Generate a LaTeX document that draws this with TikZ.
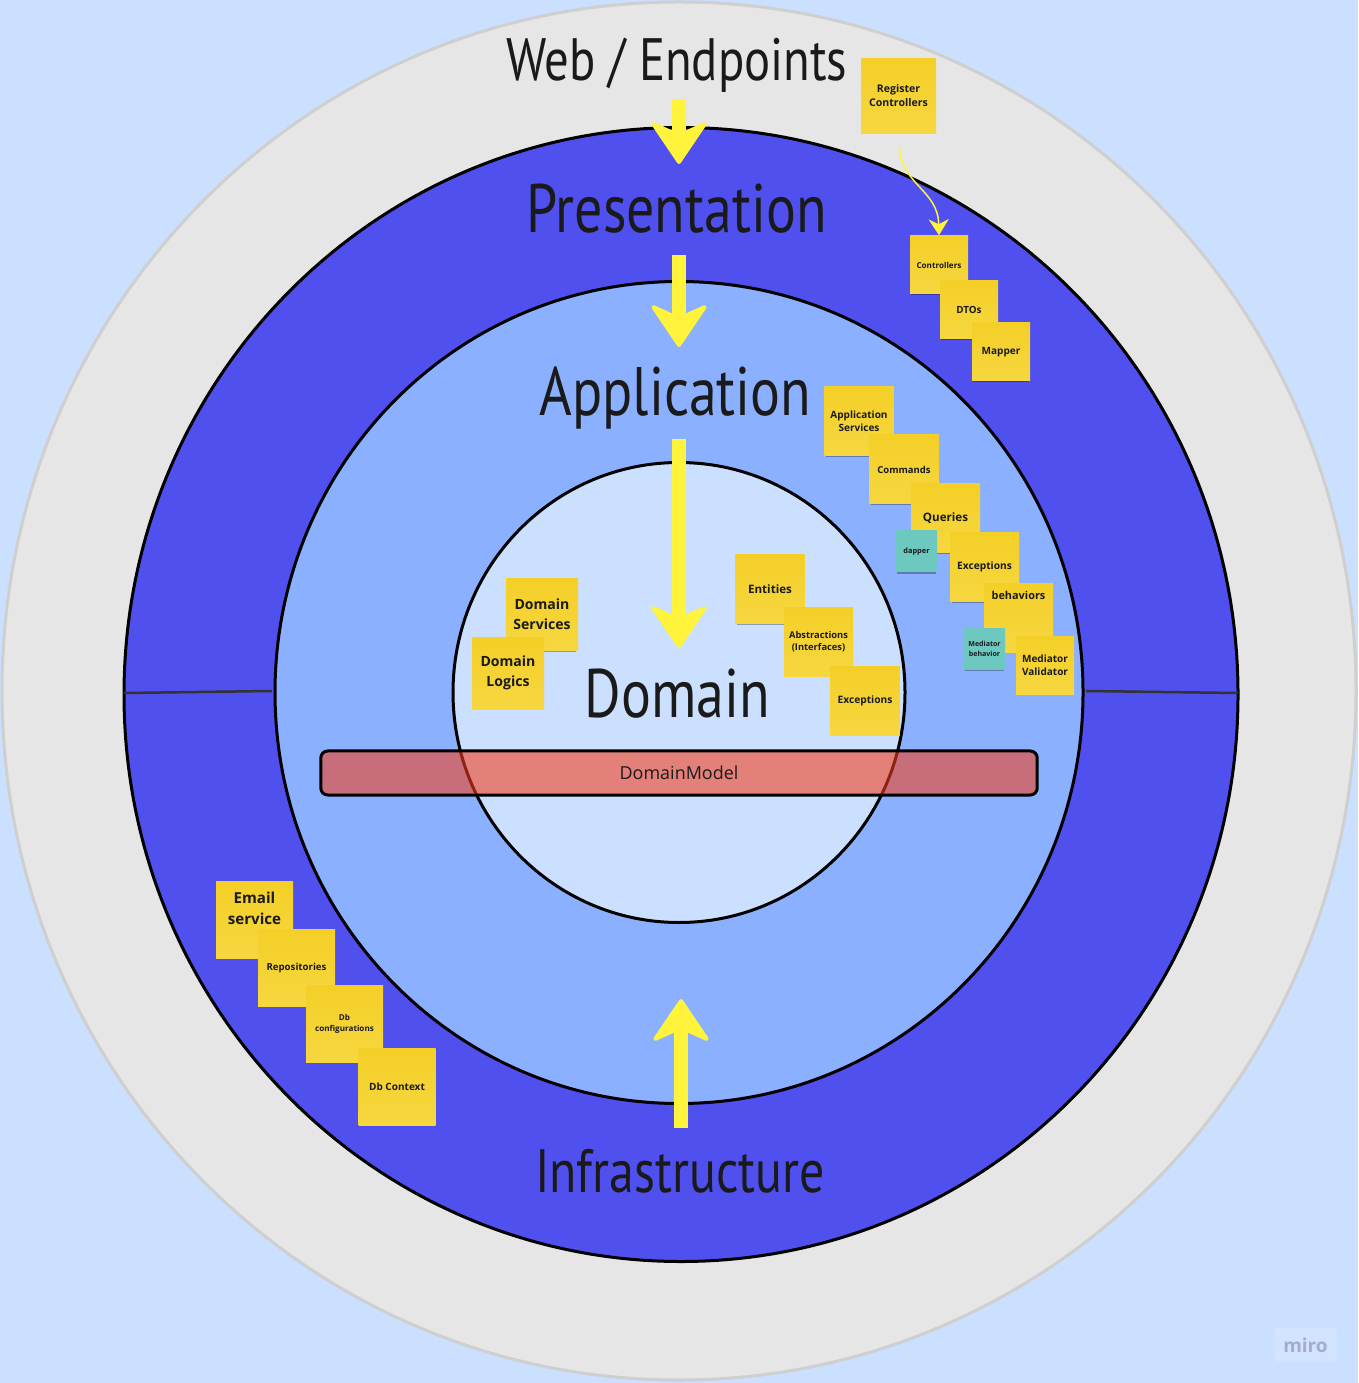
\documentclass[tikz,border=0pt]{standalone}
\usepackage{fontspec}
\usetikzlibrary{arrows.meta,shadows}
\setmainfont{Open Sans}
\newfontfamily\headfont[FakeStretch=0.815]{PT Sans}
\definecolor{pagebg}{HTML}{CBDFFF}
\definecolor{ringgray}{HTML}{E6E6E6}
\definecolor{ringedge}{HTML}{CFCFCF}
\definecolor{ringblue}{HTML}{4F50EE}
\definecolor{appblue}{HTML}{8AB0FF}
\definecolor{stickytop}{HTML}{F4CF27}
\definecolor{stickybottom}{HTML}{F6D740}
\definecolor{stickyteal}{HTML}{6DC8BF}
\definecolor{arrowyellow}{HTML}{FFF33B}
\definecolor{modelred}{HTML}{F53D1A}
\definecolor{inkdark}{HTML}{1A1A1A}
\definecolor{miroink}{HTML}{A3AEC6}
\tikzset{
	ring/.style={draw=black,line width=0.03cm},
	sticky/.style={top color=stickytop,bottom color=stickybottom,inner sep=0pt,minimum size=#1*0.01cm,align=center,text=inkdark,
		drop shadow={shadow xshift=0cm,shadow yshift=-0.03cm,shadow scale=0.95,opacity=0.3,fill=black}},
	tealsticky/.style={sticky=41,top color=stickyteal,bottom color=stickyteal},
	bigarrow/.style={draw=arrowyellow,line width=0.14cm,
		-{Stealth[length=0.46cm,width=0.62cm,inset=0.14cm,line width=0.04cm,round]}},
	layertitle/.style={anchor=base,inner sep=0pt,text=inkdark},
	divider/.style={draw=black!80,line width=0.025cm}
}
\newcommand{\hfs}[1]{\headfont\fontsize{#1}{#1}\selectfont}
\newcommand{\sfs}[2]{\bfseries\fontsize{#1}{#2}\selectfont}
\begin{document}
\begin{tikzpicture}[x=0.01cm,y=-0.01cm]
	\fill[pagebg] (0,0) rectangle (1358,1383);
	\useasboundingbox (0,0) rectangle (1358,1383);

	\draw[ringedge,fill=ringgray,line width=0.03cm] (679,691) ellipse [x radius=677,y radius=689];
	\path[ring,fill=ringblue] (681,694.5) ellipse [x radius=557,y radius=567];
	\coordinate (divLeftA) at (124,693);
	\coordinate (divLeftB) at (272,691);
	\coordinate (divRightA) at (1086,691);
	\coordinate (divRightB) at (1238,693);
	\draw[divider] (divLeftA) -- (divLeftB);
	\draw[divider] (divRightA) -- (divRightB);
	\path[ring,fill=appblue] (679,692.5) ellipse [x radius=404,y radius=411];
	\path[ring,fill=pagebg] (679,692.5) ellipse [x radius=226,y radius=230];

	\node[layertitle] (webTitle) at (677,81) {\hfs{17}Web / Endpoints};
	\node[layertitle] (presTitle) at (676.5,233) {\hfs{19.5}Presentation};
	\node[layertitle] (appTitle) at (675.5,416) {\hfs{19.5}Application};
	\node[layertitle] (domTitle) at (677.5,717) {\hfs{19.5}Domain};
	\node[layertitle] (infraTitle) at (680,1192) {\hfs{17.4}Infrastructure};

	\coordinate (webStart) at (679,99);
	\coordinate (webEnd) at (679,164);
	\coordinate (presStart) at (679,255);
	\coordinate (presEnd) at (679,347);
	\coordinate (appStart) at (679,439);
	\coordinate (appEnd) at (679,648);
	\coordinate (infraStart) at (681,1128);
	\coordinate (infraEnd) at (681,999);
	\draw[bigarrow] (webStart) -- (webEnd);
	\draw[bigarrow] (presStart) -- (presEnd);
	\draw[bigarrow] (appStart) -- (appEnd);
	\draw[bigarrow] (infraStart) -- (infraEnd);

	\node[draw=black,line width=0.03cm,rounded corners=0.07cm,fill=modelred,fill opacity=0.58,draw opacity=1,text opacity=1,
		minimum width=7.16cm,minimum height=0.44cm,inner sep=0pt,text=inkdark,font=\fontsize{5.1}{6}\selectfont] (domainModel) at (679,773)
		{DomainModel};

	\node[sticky=75,font=\sfs{3}{4}] (regCtrl) at (898.5,96) {Register\\Controllers};
	\node[sticky=58,font=\sfs{2.3}{3}] (ctrl) at (939,265) {Controllers};
	\node[sticky=58,font=\sfs{2.8}{3.5}] (dtos) at (969,310) {DTOs};
	\node[sticky=58,font=\sfs{2.85}{3.5}] (mapper) at (1001,352) {Mapper};
	\draw[arrowyellow,line width=0.015cm,shorten <=0.14cm,-{Stealth[length=0.16cm,width=0.2cm,inset=0.05cm]}]
		(regCtrl.south) .. controls (902,185) and (938,190) .. (ctrl.north);

	\node[sticky=69,font=\sfs{2.85}{3.8}] (appServices) at (859,421) {Application\\Services};
	\node[sticky=69,font=\sfs{2.7}{3.5}] (commands) at (904,469.5) {Commands};
	\node[sticky=69,font=\sfs{3.3}{4}] (queries) at (945.5,518.5) {Queries};
	\node[tealsticky,font=\sfs{2.1}{3}] (dapper) at (916.5,551.5) {dapper};
	\node[sticky=69,font=\sfs{2.9}{4}] (appExceptions) at (984.5,567) {Exceptions};
	\node[sticky=69,text depth=0.44cm,font=\sfs{3.1}{4}] (behaviors) at (1018.5,617.5) {behaviors};
	\node[tealsticky,font=\sfs{2}{2.8}] (medBehavior) at (984.5,648.5) {Mediator\\behavior};
	\node[sticky=58,font=\sfs{2.85}{3.8}] (medValidator) at (1045,665) {Mediator\\Validator};

	\node[sticky=72,font=\sfs{4}{5.6}] (domServices) at (542,614.5) {Domain\\Services};
	\node[sticky=72,font=\sfs{4}{5.8}] (domLogics) at (508,673) {Domain\\Logics};
	\node[sticky=69,font=\sfs{3.3}{4}] (entities) at (770,589) {Entities};
	\node[sticky=69,font=\sfs{2.65}{3.4}] (abstractions) at (818.5,641.5) {Abstractions\\(Interfaces)};
	\node[sticky=69,font=\sfs{2.9}{4}] (domExceptions) at (865,700.5) {Exceptions};

	\node[sticky=77,text depth=0.24cm,font=\sfs{4.3}{6.1}] (email) at (254.5,920) {Email\\service};
	\node[sticky=77,font=\sfs{2.75}{3.5}] (repositories) at (296.5,967.5) {Repositories};
	\node[sticky=77,font=\sfs{2.3}{3.2}] (dbConfig) at (344.5,1024) {Db\\configurations};
	\node[sticky=77,font=\sfs{2.85}{3.5}] (dbContext) at (397,1087) {Db Context};

	\node[fill=white,fill opacity=0.15,text opacity=1,rounded corners=0.05cm,minimum width=0.63cm,minimum height=0.34cm,inner sep=0pt,text=miroink,font=\bfseries\fontsize{5.4}{6}\selectfont] (miro) at (1305.5,1345)
		{miro};
\end{tikzpicture}
\end{document}
